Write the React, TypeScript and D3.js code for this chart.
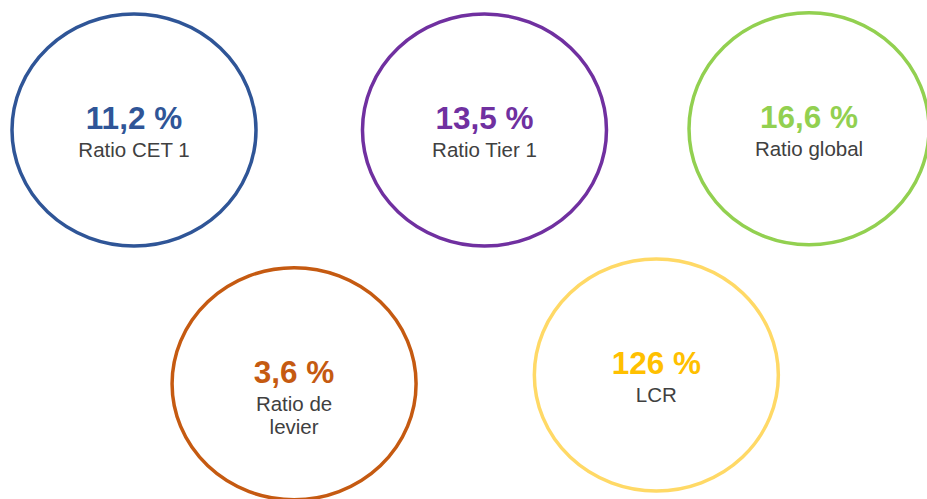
import React, { useEffect, useRef } from 'react';
import * as d3 from 'd3';

// key ratios shown as rings
const ratioValues = ['11,2 %', '13,5 %', '16,6 %', '3,6 %', '126 %'];
const ratioLabels = [['Ratio CET 1'], ['Ratio Tier 1'], ['Ratio global'], ['Ratio de', 'levier'], ['LCR']];
// grid slot of each ring (column, row)
const slotCols = [0, 1.04, 2.003, 0.475, 1.55];
const slotRows = [0, 0, -0.005, 1.015, 0.98];

const ringColors = ['#2F5597', '#7030A0', '#92D050', '#C55A11', '#FFD966'];
const valueColors = ['#2F5597', '#7030A0', '#92D050', '#C55A11', '#FFC000'];

const App = () => {
    const ref = useRef<SVGSVGElement>(null);

    useEffect(() => {
        const width = 927;
        const height = 499;
        const svg = d3.select(ref.current).attr('width', width).attr('height', height);
        svg.selectAll('*').remove();

        const x = d3.scaleLinear().domain([0, 2]).range([134, 808]);
        const y = d3.scaleLinear().domain([0, 1]).range([130, 380]);

        const items = ratioValues.map((v, i) => ({
            value: v,
            label: ratioLabels[i],
            col: slotCols[i],
            row: slotRows[i],
            ring: ringColors[i],
            color: valueColors[i],
        }));

        const g = svg.selectAll('g.ring')
            .data(items)
            .enter()
            .append('g')
            .attr('class', 'ring')
            .attr('transform', d => `translate(${x(d.col)},${y(d.row)})`);

        g.append('ellipse')
            .attr('rx', (d, i) => (i === 2 ? 120 : 122))
            .attr('ry', 116)
            .attr('fill', 'none')
            .attr('stroke', d => d.ring)
            .attr('stroke-width', 3.5);

        g.append('text')
            .attr('text-anchor', 'middle')
            .attr('y', -1)
            .style('font-family', '"Liberation Sans", Arial, sans-serif')
            .style('font-size', '31.5px')
            .style('font-weight', 'bold')
            .attr('fill', d => d.color)
            .text(d => d.value);

        g.each(function (d) {
            const t = d3.select(this).append('text')
                .attr('text-anchor', 'middle')
                .style('font-family', '"Liberation Sans", Arial, sans-serif')
                .style('font-size', '20.5px')
                .attr('fill', '#404040');
            d.label.forEach((line, k) => {
                t.append('tspan')
                    .attr('x', 0)
                    .attr('y', 27 + k * 23)
                    .text(line);
            });
        });
    }, []);

    return <svg ref={ref} style={{ position: 'absolute', left: 0, top: 0, background: '#fff' }}></svg>;
};

export default App;
